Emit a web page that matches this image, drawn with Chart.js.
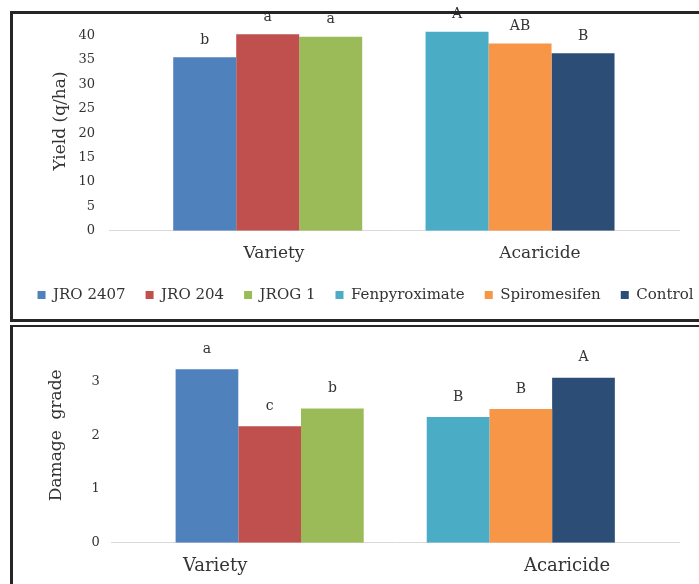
<!DOCTYPE html>
<html>
<head>
<meta charset="utf-8">
<script src="https://cdn.jsdelivr.net/npm/chart.js@4"></script>
<style>
  body { margin: 0; background: #fff; width: 699px; height: 584px; overflow: hidden; position: relative; }
  canvas { position: absolute; left: 0; }
  #YieldChart { top: 0; }
  #DamageChart { top: 320px; }
  .panel { position: absolute; left: 10px; width: 700px; border: 3px solid #262626; border-right: none; pointer-events: none; }
  #panel1 { top: 11px; height: 305px; }
  #panel2 { top: 325px; height: 300px; border-top-width: 2px; border-bottom: none; }
</style>
</head>
<body>
<canvas id="YieldChart" width="731" height="319"></canvas>
<canvas id="DamageChart" width="699" height="264"></canvas>
<div class="panel" id="panel1"></div>
<div class="panel" id="panel2"></div>
<script>
const groups = ["Variety", "Acaricide"];
const treatments = ["JRO 2407", "JRO 204", "JROG 1", "Fenpyroximate", "Spiromesifen", "Control"];
const treatmentGroup = [0, 0, 0, 1, 1, 1];
const yieldValues = [35.6, 40.3, 39.8, 40.8, 38.4, 36.4];
const yieldLetters = ["b", "a", "a", "A", "AB", "B"];
const damageValues = [3.23, 2.17, 2.5, 2.34, 2.49, 3.07];
const damageLetters = ["a", "c", "b", "B", "B", "A"];
const barColors = ["#4F81BD", "#C0504D", "#9BBB59", "#4BACC6", "#F79646", "#2C4D75"];

const textColor = "#333";
const serif = "'DejaVu Serif', 'Liberation Serif', serif";

// letters of significance above every bar
const letterPlugin = {
  id: "letters",
  afterDatasetsDraw(chart, args, opts) {
    const c = chart.ctx;
    c.save();
    c.font = "14px " + serif;
    c.fillStyle = textColor;
    c.textAlign = "center";
    c.textBaseline = "middle";
    chart.data.datasets.forEach((ds, i) => {
      chart.getDatasetMeta(i).data.forEach(bar => {
        c.fillText(ds.letter, bar.x, bar.y - opts.gap);
      });
    });
    c.restore();
  }
};

function makeDatasets(values, letters) {
  return treatments.map((name, i) => ({
    label: name,
    data: [{ x: treatmentGroup[i], y: values[i] }],
    letter: letters[i],
    backgroundColor: barColors[i],
    borderWidth: 0,
    skipNull: true,
    barPercentage: 1,
    categoryPercentage: 0.749,
  }));
}

function createBarChart(canvas, values, letters, o) {
  return new Chart(canvas, {
    type: "bar",
    data: { datasets: makeDatasets(values, letters) },
    options: {
      responsive: false,
      animation: false,
      layout: { padding: o.padding },
      plugins: {
        tooltip: { enabled: false },
        letters: { gap: o.gap },
        legend: {
          display: o.legend,
          position: "bottom",
          labels: { boxWidth: 8, boxHeight: 8, padding: 20, color: textColor, font: { family: serif, size: 15 } },
        },
      },
      scales: {
        x: {
          type: "linear",
          offset: false,
          bounds: "data",
          min: -0.629,
          max: 1.63,
          grid: { display: false, drawTicks: false, offset: false },
          border: { color: "#d9d9d9", width: 1 },
          afterBuildTicks: s => { s.ticks = o.labelAt.map(v => ({ value: v })); },
          afterFit: s => { s.height = o.xHeight; },
          ticks: {
            autoSkip: false, maxRotation: 0, padding: 13, color: textColor,
            font: { family: serif, size: o.xFont },
            callback: (v, i) => groups[i],
          },
        },
        y: {
          min: 0,
          max: o.yMax,
          grid: { display: false, drawTicks: false },
          border: { display: false },
          afterFit: s => { s.width = o.yWidth; s.paddingTop = 0; s.paddingBottom = 0; },
          title: {
            display: true, text: o.yTitle, color: textColor,
            padding: { top: o.titlePad, bottom: 4 },
            font: { family: serif, size: 17 },
          },
          ticks: {
            stepSize: o.step, padding: o.tickPad, color: textColor,
            font: { family: serif, size: 13 },
            callback: v => (v === o.yMax ? "" : v),
          },
        },
        // empty right-hand axis, keeps the plot inside the frame
        y2: {
          position: "right",
          grid: { display: false, drawTicks: false },
          border: { display: false },
          ticks: { display: false },
          afterFit: s => { s.width = o.rightGap; s.paddingTop = 0; s.paddingBottom = 0; },
        },
      },
    },
    plugins: [letterPlugin],
  });
}

createBarChart(document.getElementById("YieldChart"), yieldValues, yieldLetters, {
  padding: { left: 0, top: 11.3, right: 0, bottom: 6.5 },
  yWidth: 109, rightGap: 52, titlePad: 50, xHeight: 36.8, yMax: 45, step: 5, tickPad: 14,
  yTitle: "Yield (q/ha)", labelAt: [0.025, 1.079], xFont: 17, legend: true, gap: 17,
});

createBarChart(document.getElementById("DamageChart"), damageValues, damageLetters, {
  padding: { left: 0, top: 7.9, right: 0, bottom: 0 },
  yWidth: 111.7, rightGap: 20, titlePad: 46, xHeight: 41.3, yMax: 4, step: 1, tickPad: 12,
  yTitle: "Damage  grade", labelAt: [-0.217, 1.184], xFont: 18, legend: false, gap: 20,
});
</script>
</body>
</html>
